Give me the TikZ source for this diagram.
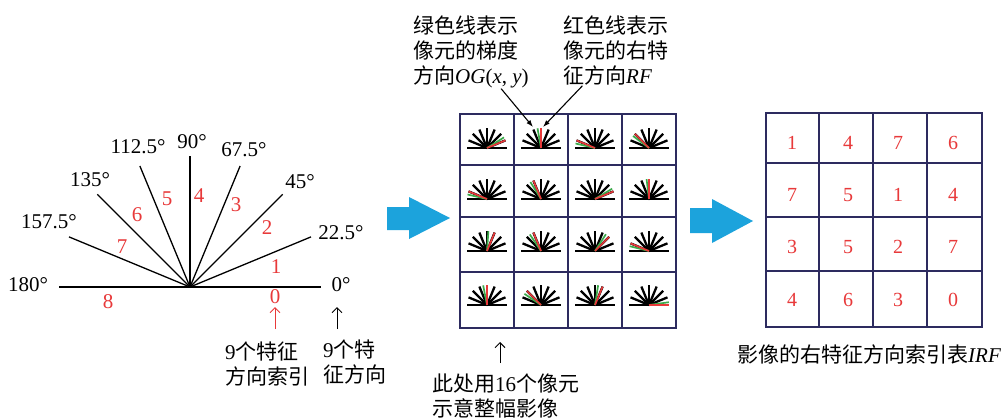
\documentclass[tikz,border=0pt]{standalone}
\usepackage{fontspec}
\setmainfont{Liberation Serif}
\newfontfamily\cjk{Noto Sans CJK SC}
\usetikzlibrary{arrows.meta,calc}
\definecolor{gridc}{RGB}{45,43,95}
\definecolor{redc}{RGB}{232,57,58}
\definecolor{greenc}{RGB}{60,170,75}
\definecolor{bluec}{RGB}{28,163,220}
\newcommand\cellfan[4]{%
  \begin{scope}[shift={(#1,#2)}]
    \foreach \a in {22.5,45,...,157.5} \draw[fanline] (0,0) -- (-\a:20);
    \draw[fanline] (-20,0) -- (20,0);
    \draw[greenline] (0,0) -- (-#4:20);
    \draw[redline] (0,0) -- (-#3:20);
  \end{scope}}
\begin{document}
\begin{tikzpicture}[x=1pt,y=-1pt,
  txt/.style={font=\fontsize{21}{25}\selectfont, inner sep=0pt, align=left},
  deg/.style={font=\fontsize{21}{25}\selectfont, inner sep=0pt},
  rnum/.style={font=\fontsize{21}{25}\selectfont, inner sep=0pt, text=redc},
  tnum/.style={font=\fontsize{20}{24}\selectfont, inner sep=0pt, text=redc},
  ray/.style={line width=1.3pt, black},
  fanline/.style={line width=2.3pt, black},
  redline/.style={line width=1.7pt, redc},
  greenline/.style={line width=1.7pt, greenc},
  gridline/.style={line width=2.8pt, gridc},
  upar/.style={line width=1pt, -{Straight Barb[length=5pt,width=10pt]}},
  ptr/.style={line width=1.1pt, -{Latex[length=7pt,width=5pt]}},
  blue arrow/.style={fill=bluec}
]
\useasboundingbox (0,0) rectangle (1008,418);
\fill[white] (0,0) rectangle (1008,418);

% ---------- left fan ----------
\coordinate (fc) at (190,287);
\coordinate (fl) at (59,287);
\coordinate (fr) at (321,287);
\draw[ray] (fl) -- (fr);
\foreach \a in {22.5,45,...,157.5} \draw[ray] (fc) -- ++(-\a:131);

\node[deg] (d0)   at (341,285) {0°};
\node[deg] (d1)   at (341,233) {22.5°};
\node[deg] (d2)   at (300,182) {45°};
\node[deg] (d3)   at (244,150) {67.5°};
\node[deg] (d4)   at (192,142) {90°};
\node[deg] (d5)   at (138,147) {112.5°};
\node[deg] (d6)   at (90,180)  {135°};
\node[deg] (d7)   at (49,222)  {157.5°};
\node[deg] (d8)   at (28,285)  {180°};

\node[rnum] (i0) at (275,297) {0};
\node[rnum] (i1) at (276,267) {1};
\node[rnum] (i2) at (267,228) {2};
\node[rnum] (i3) at (236,205) {3};
\node[rnum] (i4) at (199,196) {4};
\node[rnum] (i5) at (167,199) {5};
\node[rnum] (i6) at (137,215) {6};
\node[rnum] (i7) at (122,247) {7};
\node[rnum] (i8) at (108,302) {8};

\coordinate (ra) at (275,329);
\coordinate (rb) at (275,307);
\coordinate (ba) at (337,329);
\coordinate (bb) at (337,307);
\draw[upar, redc] (ra) -- (rb);
\draw[upar] (ba) -- (bb);

\node[txt, anchor=north west] (idx) at (225,342) {9{\cjk 个特征}\\{\cjk 方向索引}};
\node[txt, anchor=north west] (dirs) at (323,340) {9{\cjk 个特}\\{\cjk 征方向}};

% ---------- blue arrows ----------
\fill[blue arrow] (387,207) -- (409,207) -- (409,197) -- (450,218) -- (409,239) -- (409,230) -- (387,230) -- cycle;
\fill[blue arrow] (690,208) -- (712,208) -- (712,199) -- (753,221) -- (712,243) -- (712,233) -- (690,233) -- cycle;

% ---------- middle grid ----------
\foreach \px/\py/\r/\g in {
  487/148/22.5/32, 541/148/90/100, 595/148/157.5/167, 649/148/135/143,
  487/199/157.5/167, 541/199/112.5/122, 595/199/22.5/31, 649/199/90/97,
  487/251/67.5/86, 541/251/112.5/124, 595/251/45/57, 649/251/157.5/166,
  487/305/90/101, 541/305/135/146, 595/305/67.5/81, 649/305/0/8}
  \cellfan{\px}{\py}{\r}{\g};
\draw[gridline] (460,114) rectangle (676,328);
\foreach \v in {514,568,622} \draw[gridline] (\v,114) -- (\v,328);
\foreach \h in {165,217,272} \draw[gridline] (460,\h) -- (676,\h);

\node[txt, anchor=north west] (tg) at (413,16) {{\cjk 绿色线表示}\\{\cjk 像元的梯度}\\{\cjk 方向}\textit{OG}(\textit{x}, \textit{y})};
\node[txt, anchor=north west] (tr) at (563,16) {{\cjk 红色线表示}\\{\cjk 像元的右特}\\{\cjk 征方向}\textit{RF}};
\coordinate (ga) at (533,127);
\coordinate (gb) at (543,127);
\draw[ptr] (tg) -- (ga);
\draw[ptr] (tr) -- (gb);

\coordinate (ma) at (500,363);
\coordinate (mb) at (500,342);
\draw[upar] (ma) -- (mb);
\node[txt, anchor=north west] (whole) at (432,374) {{\cjk 此处用}16{\cjk 个像元}\\{\cjk 示意整幅影像}};

% ---------- right grid ----------
\draw[gridline] (766,113) rectangle (982,327);
\foreach \v in {819,873,927} \draw[gridline] (\v,113) -- (\v,327);
\foreach \h in {163,217,271} \draw[gridline] (766,\h) -- (982,\h);
\foreach \px/\py/\n [count=\k] in {
  792/143/1, 848/143/4, 898/143/7, 953/143/6,
  792/195/7, 848/195/5, 898/195/1, 953/195/4,
  792/247/3, 848/247/5, 898/247/2, 953/247/7,
  792/300/4, 848/300/6, 898/300/3, 953/300/0}
  \node[tnum] (t\k) at (\px,\py) {\n};
\node[txt, anchor=north west] (cap) at (737,345) {{\cjk 影像的右特征方向索引表}\textit{IRF}};
\end{tikzpicture}
\end{document}
